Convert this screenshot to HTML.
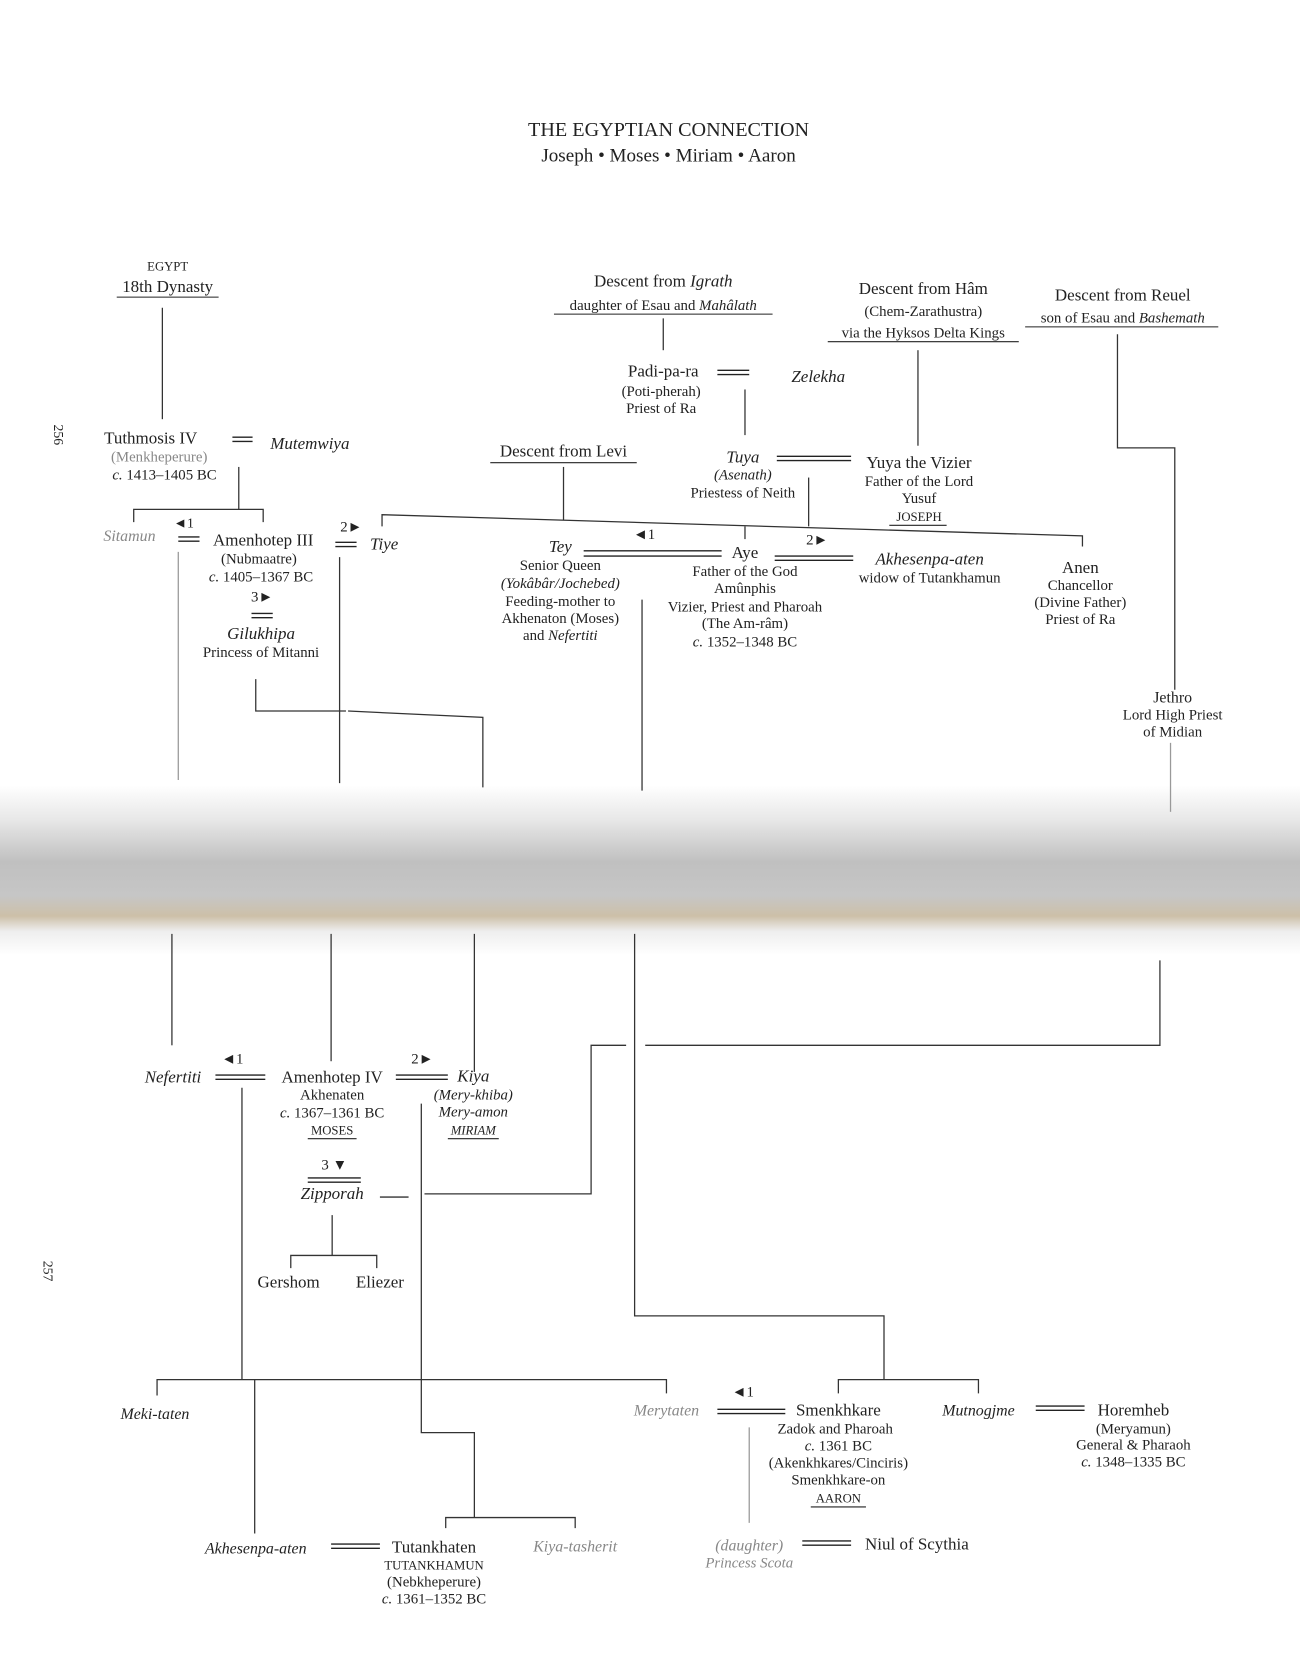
<!DOCTYPE html>
<html><head><meta charset="utf-8"><style>
html,body{margin:0;padding:0;background:#fff;width:1300px;height:1664px;overflow:hidden}
svg text{font-family:"Liberation Serif",serif;fill:#222}
.m{text-anchor:middle}
.i{font-style:italic}
.g{fill:#888}
</style></head><body>
<svg width="1300" height="1664" viewBox="0 0 1225 1568" preserveAspectRatio="none" xmlns="http://www.w3.org/2000/svg">
<defs><linearGradient id="band" x1="0" y1="0" x2="0" y2="1">
<stop offset="0" stop-color="#ffffff"/><stop offset="0.2" stop-color="#e8e8e8"/><stop offset="0.45" stop-color="#c0c0c0"/><stop offset="0.65" stop-color="#c6c6c6"/><stop offset="0.77" stop-color="#cdc0a8"/><stop offset="0.86" stop-color="#eeeeee"/><stop offset="1" stop-color="#ffffff"/></linearGradient></defs>
<rect x="0" y="740" width="1225" height="160" fill="url(#band)"/>
<g stroke="#333" stroke-width="1.2" fill="none">
<line x1="153" y1="290" x2="153" y2="395"/>
<line x1="625" y1="300" x2="625" y2="330"/>
<line x1="865" y1="330" x2="865" y2="420"/>
<polyline points="1053,315 1053,422 1107,422 1107,650"/>
<line x1="702" y1="367" x2="702" y2="410"/>
<line x1="762" y1="450" x2="762" y2="496"/>
<line x1="531" y1="440" x2="531" y2="490"/>
<polyline points="126,492 126,480 248,480 248,492"/>
<line x1="225" y1="440" x2="225" y2="480"/>
<polyline points="360,496 360,485 1020,505 1020,515"/>
<line x1="702" y1="496" x2="702" y2="508"/>
<line x1="168" y1="520" x2="168" y2="735" stroke="#999"/>
<line x1="320" y1="525" x2="320" y2="738"/>
<polyline points="241,640 241,670 326,670"/>
<polyline points="328,670 455,676 455,742"/>
<line x1="605" y1="565" x2="605" y2="745"/>
<line x1="1103" y1="700" x2="1103" y2="765" stroke="#999"/>
<line x1="162" y1="880" x2="162" y2="985"/>
<line x1="312" y1="880" x2="312" y2="1000"/>
<line x1="447" y1="880" x2="447" y2="1010"/>
<polyline points="598,880 598,1240 833,1240 833,1300"/>
<polyline points="608,985 1093,985 1093,905"/>
<polyline points="400,1125 557,1125 557,985 590,985"/>
<line x1="358" y1="1128" x2="385" y2="1128"/>
<line x1="228" y1="1025" x2="228" y2="1300"/>
<polyline points="397,1040 397,1350 447,1350 447,1430"/>
<line x1="313" y1="1145" x2="313" y2="1183"/>
<polyline points="274,1195 274,1183 355,1183 355,1195"/>
<polyline points="148,1315 148,1300 628,1300 628,1313"/>
<line x1="240" y1="1300" x2="240" y2="1445"/>
<polyline points="790,1313 790,1300 922,1300 922,1313"/>
<line x1="706" y1="1345" x2="706" y2="1435" stroke="#999"/>
<polyline points="420,1440 420,1430 542,1430 542,1440"/>
</g>
<g stroke="#222" stroke-width="1.3">
<line x1="676" y1="349" x2="706" y2="349"/><line x1="676" y1="353" x2="706" y2="353"/>
<line x1="732" y1="430" x2="802" y2="430"/><line x1="732" y1="434" x2="802" y2="434"/>
<line x1="219" y1="412" x2="238" y2="412"/><line x1="219" y1="416" x2="238" y2="416"/>
<line x1="168" y1="506" x2="188" y2="506"/><line x1="168" y1="510" x2="188" y2="510"/>
<line x1="316" y1="511" x2="336" y2="511"/><line x1="316" y1="515" x2="336" y2="515"/>
<line x1="550" y1="519" x2="680" y2="519"/><line x1="550" y1="524" x2="680" y2="524"/>
<line x1="730" y1="524" x2="804" y2="524"/><line x1="730" y1="528" x2="804" y2="528"/>
<line x1="237" y1="578" x2="257" y2="578"/><line x1="237" y1="582" x2="257" y2="582"/>
<line x1="203" y1="1013" x2="250" y2="1013"/><line x1="203" y1="1017" x2="250" y2="1017"/>
<line x1="373" y1="1013" x2="422" y2="1013"/><line x1="373" y1="1017" x2="422" y2="1017"/>
<line x1="290" y1="1110" x2="340" y2="1110"/><line x1="290" y1="1114" x2="340" y2="1114"/>
<line x1="676" y1="1328" x2="740" y2="1328"/><line x1="676" y1="1332" x2="740" y2="1332"/>
<line x1="976" y1="1325" x2="1022" y2="1325"/><line x1="976" y1="1329" x2="1022" y2="1329"/>
<line x1="312" y1="1455" x2="358" y2="1455"/><line x1="312" y1="1459" x2="358" y2="1459"/>
<line x1="756" y1="1452" x2="802" y2="1452"/><line x1="756" y1="1456" x2="802" y2="1456"/>
</g>
<g stroke="#222" stroke-width="1">
<line x1="110" y1="280" x2="206" y2="280"/>
<line x1="522" y1="296" x2="728" y2="296"/>
<line x1="780" y1="322" x2="960" y2="322"/>
<line x1="966" y1="308" x2="1148" y2="308"/>
<line x1="462" y1="436" x2="600" y2="436"/>
<line x1="838" y1="495" x2="892" y2="495"/>
<line x1="290" y1="1073" x2="336" y2="1073"/>
<line x1="422" y1="1073" x2="470" y2="1073"/>
<line x1="764" y1="1420" x2="816" y2="1420"/>
</g>
<text class="m" x="630" y="128" font-size="19">THE EGYPTIAN CONNECTION</text>
<text class="m" x="630" y="152" font-size="18">Joseph • Moses • Miriam • Aaron</text>
<text class="m" x="158" y="255" font-size="12">EGYPT</text>
<text class="m" x="158" y="275" font-size="16">18th Dynasty</text>
<text class="m" x="625" y="270" font-size="16">Descent from <tspan class="i">Igrath</tspan></text>
<text class="m" x="625" y="292" font-size="14">daughter of Esau and <tspan class="i">Mahâlath</tspan></text>
<text class="m" x="870" y="277" font-size="16">Descent from Hâm</text>
<text class="m" x="870" y="298" font-size="14">(Chem-Zarathustra)</text>
<text class="m" x="870" y="318" font-size="14">via the Hyksos Delta Kings</text>
<text class="m" x="1058" y="283" font-size="16">Descent from Reuel</text>
<text class="m" x="1058" y="304" font-size="14">son of Esau and <tspan class="i">Bashemath</tspan></text>
<text class="m" x="625" y="355" font-size="16">Padi-pa-ra</text>
<text class="m" x="623" y="373" font-size="14">(Poti-pherah)</text>
<text class="m" x="623" y="389" font-size="14">Priest of Ra</text>
<text class="m i" x="771" y="360" font-size="16">Zelekha</text>
<text class="m i" x="700" y="436" font-size="16">Tuya</text>
<text class="m i" x="700" y="452" font-size="14">(Asenath)</text>
<text class="m" x="700" y="469" font-size="14">Priestess of Neith</text>
<text class="m" x="866" y="441" font-size="16">Yuya the Vizier</text>
<text class="m" x="866" y="458" font-size="14">Father of the Lord</text>
<text class="m" x="866" y="474" font-size="14">Yusuf</text>
<text class="m" x="866" y="491" font-size="12">JOSEPH</text>
<text class="m" x="531" y="430" font-size="16">Descent from Levi</text>
<text class="m" x="142" y="418" font-size="16">Tuthmosis IV</text>
<text class="m g" x="150" y="435" font-size="14">(Menkheperure)</text>
<text class="m" x="155" y="452" font-size="14"><tspan class="i">c.</tspan> 1413–1405 BC</text>
<text class="m i" x="292" y="423" font-size="16">Mutemwiya</text>
<text class="m i g" x="122" y="510" font-size="15">Sitamun</text>
<text class="m" x="173" y="497" font-size="13">◄1</text>
<text class="m" x="248" y="514" font-size="16">Amenhotep III</text>
<text class="m" x="244" y="531" font-size="14">(Nubmaatre)</text>
<text class="m" x="246" y="548" font-size="14"><tspan class="i">c.</tspan> 1405–1367 BC</text>
<text class="m" x="331" y="501" font-size="14">2►</text>
<text class="m i" x="362" y="518" font-size="16">Tiye</text>
<text class="m" x="247" y="567" font-size="14">3►</text>
<text class="m i" x="246" y="602" font-size="16">Gilukhipa</text>
<text class="m" x="246" y="619" font-size="14">Princess of Mitanni</text>
<text class="m" x="607" y="508" font-size="14">◄1</text>
<text class="m i" x="528" y="520" font-size="16">Tey</text>
<text class="m" x="528" y="537" font-size="14">Senior Queen</text>
<text class="m i" x="528" y="554" font-size="14">(Yokâbâr/Jochebed)</text>
<text class="m" x="528" y="571" font-size="14">Feeding-mother to</text>
<text class="m" x="528" y="587" font-size="14">Akhenaton (Moses)</text>
<text class="m" x="528" y="603" font-size="14">and <tspan class="i">Nefertiti</tspan></text>
<text class="m" x="702" y="526" font-size="16">Aye</text>
<text class="m" x="702" y="543" font-size="14">Father of the God</text>
<text class="m" x="702" y="559" font-size="14">Amûnphis</text>
<text class="m" x="702" y="576" font-size="14">Vizier, Priest and Pharoah</text>
<text class="m" x="702" y="592" font-size="14">(The Am-râm)</text>
<text class="m" x="702" y="609" font-size="14"><tspan class="i">c.</tspan> 1352–1348 BC</text>
<text class="m" x="770" y="513" font-size="14">2►</text>
<text class="m i" x="876" y="532" font-size="16">Akhesenpa-aten</text>
<text class="m" x="876" y="549" font-size="14">widow of Tutankhamun</text>
<text class="m" x="1018" y="540" font-size="16">Anen</text>
<text class="m" x="1018" y="556" font-size="14">Chancellor</text>
<text class="m" x="1018" y="572" font-size="14">(Divine Father)</text>
<text class="m" x="1018" y="588" font-size="14">Priest of Ra</text>
<text class="m" x="1105" y="662" font-size="15">Jethro</text>
<text class="m" x="1105" y="678" font-size="14">Lord High Priest</text>
<text class="m" x="1105" y="694" font-size="14">of Midian</text>
<text class="m i" x="163" y="1020" font-size="16">Nefertiti</text>
<text class="m" x="219" y="1002" font-size="14">◄1</text>
<text class="m" x="313" y="1020" font-size="16">Amenhotep IV</text>
<text class="m" x="313" y="1036" font-size="14">Akhenaten</text>
<text class="m" x="313" y="1053" font-size="14"><tspan class="i">c.</tspan> 1367–1361 BC</text>
<text class="m" x="313" y="1069" font-size="12">MOSES</text>
<text class="m" x="398" y="1002" font-size="14">2►</text>
<text class="m i" x="446" y="1019" font-size="16">Kiya</text>
<text class="m i" x="446" y="1036" font-size="14">(Mery-khiba)</text>
<text class="m i" x="446" y="1052" font-size="14">Mery-amon</text>
<text class="m i" x="446" y="1069" font-size="12">MIRIAM</text>
<text class="m" x="315" y="1102" font-size="14">3 ▼</text>
<text class="m i" x="313" y="1130" font-size="16">Zipporah</text>
<text class="m" x="272" y="1213" font-size="16">Gershom</text>
<text class="m" x="358" y="1213" font-size="16">Eliezer</text>
<text class="m i" x="146" y="1337" font-size="15">Meki-taten</text>
<text class="m i g" x="628" y="1334" font-size="15">Merytaten</text>
<text class="m" x="700" y="1316" font-size="14">◄1</text>
<text class="m" x="790" y="1334" font-size="16">Smenkhkare</text>
<text class="m" x="787" y="1351" font-size="14">Zadok and Pharoah</text>
<text class="m" x="790" y="1367" font-size="14"><tspan class="i">c.</tspan> 1361 BC</text>
<text class="m" x="790" y="1383" font-size="14">(Akenkhkares/Cinciris)</text>
<text class="m" x="790" y="1399" font-size="14">Smenkhkare-on</text>
<text class="m" x="790" y="1416" font-size="12">AARON</text>
<text class="m i" x="922" y="1334" font-size="15">Mutnogjme</text>
<text class="m" x="1068" y="1334" font-size="16">Horemheb</text>
<text class="m" x="1068" y="1351" font-size="14">(Meryamun)</text>
<text class="m" x="1068" y="1366" font-size="14">General &amp; Pharaoh</text>
<text class="m" x="1068" y="1382" font-size="14"><tspan class="i">c.</tspan> 1348–1335 BC</text>
<text class="m i" x="241" y="1464" font-size="15">Akhesenpa-aten</text>
<text class="m" x="409" y="1463" font-size="16">Tutankhaten</text>
<text class="m" x="409" y="1479" font-size="12">TUTANKHAMUN</text>
<text class="m" x="409" y="1495" font-size="14">(Nebkheperure)</text>
<text class="m" x="409" y="1511" font-size="14"><tspan class="i">c.</tspan> 1361–1352 BC</text>
<text class="m i g" x="542" y="1462" font-size="15">Kiya-tasherit</text>
<text class="m i g" x="706" y="1461" font-size="15">(daughter)</text>
<text class="m i g" x="706" y="1477" font-size="14">Princess Scota</text>
<text class="m" x="864" y="1460" font-size="16">Niul of Scythia</text>
<text x="0" y="0" font-size="13" fill="#555" transform="translate(51,400) rotate(90)">256</text>
<text x="0" y="0" font-size="13" fill="#555" transform="translate(41,1188) rotate(90)">257</text>
</svg>
</body></html>
